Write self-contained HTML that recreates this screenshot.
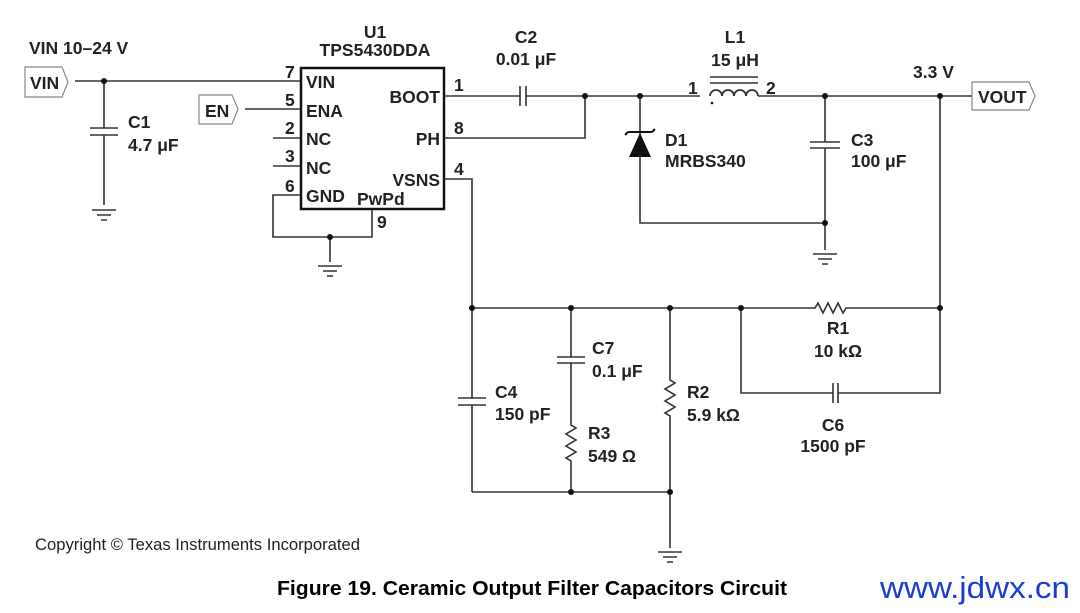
<!DOCTYPE html>
<html><head><meta charset="utf-8"><style>
html,body{margin:0;padding:0;background:#fff}
svg{display:block}
text{font-family:"Liberation Sans",Arial,sans-serif;font-weight:bold;font-size:17.5px;fill:#222}
</style></head><body>
<svg width="1080" height="613" viewBox="0 0 1080 613" xmlns="http://www.w3.org/2000/svg">
<defs>
<g id="gnd" stroke="#333" stroke-width="1.5"><line x1="-12" y1="0" x2="12" y2="0"/><line x1="-7" y1="5" x2="7" y2="5"/><line x1="-3" y1="10" x2="3" y2="10"/></g>
</defs>
<g stroke="#333" stroke-width="1.6" fill="none">
<path d="M25 67 H62 L68 82 L62 97 H25 Z" stroke="#888" stroke-width="1.2"/>
<path d="M75 81 H301"/>
<path d="M104 81 V128 M104 135 V205"/>
<path d="M90 128 H118 M90 135 H118"/>
<path d="M199 95 H232 L238 109 L232 124 H199 Z" stroke="#888" stroke-width="1.2"/>
<path d="M245 109 H301 M273 138 H301 M273 166 H301"/>
<path d="M301 195 H273 V237 H372 V209 M330 237 V262"/>
<rect x="301" y="68" width="143" height="141" stroke="#111" stroke-width="2.5"/>
<path d="M444 96 H520 M526 96 H700 M758 96 H972"/>
<path d="M520 86 V106 M526 86 V106"/>
<path d="M444 138 H585 V96"/>
<path d="M444 179 H472 V308"/>
<path d="M472 492 H670 V548"/>
<path d="M640 96 V223 H825"/>
<path d="M710 96 a6 6 0 0 1 12 0 a6 6 0 0 1 12 0 a6 6 0 0 1 12 0 a6 6 0 0 1 12 0" stroke-width="1.8"/>
<path d="M710 77 H758 M710 83 H758"/>
<path d="M825 96 V142 M825 148 V250 M810 142 H840 M810 148 H840"/>
<path d="M972 82 H1029 L1035 96 L1029 110 H972 Z" stroke="#888" stroke-width="1.2"/>
<path d="M940 96 V393 H838 M833 393 H741 V308"/>
<path d="M833 383 V403 M838 383 V403"/>
<path d="M472 308 H815 l3 -5 l5 10 l5 -10 l5 10 l5 -10 l5 10 l3 -5 H940"/>
<path d="M472 308 V398 M472 405 V492 M458 398 H486 M458 405 H486"/>
<path d="M571 308 V357 M571 363 V425 l5 3 l-10 6 l10 6 l-10 6 l10 6 l-10 6 l5 3 V492 M557 357 H585 M557 363 H585"/>
<path d="M670 308 V380 l5 3 l-10 6 l10 6 l-10 6 l10 6 l-10 6 l5 3 V492"/>
</g>
<path d="M640 133 L629 157 H651 Z" fill="#111"/>
<path d="M628 132 H652 M628 132 l-3 3 M652 132 l3 -3" stroke="#111" stroke-width="2" fill="none"/>
<circle cx="712" cy="103" r="1.3" fill="#111"/>
<use href="#gnd" x="104" y="210"/>
<use href="#gnd" x="330" y="266"/>
<use href="#gnd" x="825" y="254"/>
<use href="#gnd" x="670" y="552"/>
<g fill="#111">
<circle cx="104" cy="81" r="3"/><circle cx="330" cy="237" r="3"/>
<circle cx="585" cy="96" r="3"/><circle cx="640" cy="96" r="3"/><circle cx="825" cy="96" r="3"/><circle cx="940" cy="96" r="3"/><circle cx="825" cy="223" r="3"/>
<circle cx="472" cy="308" r="3"/><circle cx="571" cy="308" r="3"/><circle cx="670" cy="308" r="3"/><circle cx="741" cy="308" r="3"/><circle cx="940" cy="308" r="3"/>
<circle cx="571" cy="492" r="3"/><circle cx="670" cy="492" r="3"/>
</g>
<text x="29" y="54">VIN 10–24 V</text>
<text x="30" y="89">VIN</text>
<text x="205" y="117">EN</text>
<text x="375" y="38" text-anchor="middle">U1</text>
<text x="375" y="56" text-anchor="middle">TPS5430DDA</text>
<text x="128" y="128">C1</text><text x="128" y="151">4.7 μF</text>
<text x="285" y="78">7</text><text x="285" y="106">5</text><text x="285" y="134">2</text><text x="285" y="162">3</text><text x="285" y="192">6</text><text x="377" y="228">9</text>
<text x="306" y="88">VIN</text><text x="306" y="117">ENA</text><text x="306" y="145">NC</text><text x="306" y="174">NC</text><text x="306" y="202">GND</text><text x="357" y="205">PwPd</text>
<text x="440" y="103" text-anchor="end">BOOT</text><text x="440" y="145" text-anchor="end">PH</text><text x="440" y="186" text-anchor="end">VSNS</text>
<text x="454" y="91">1</text><text x="454" y="134">8</text><text x="454" y="175">4</text>
<text x="526" y="43" text-anchor="middle">C2</text><text x="526" y="65" text-anchor="middle">0.01 μF</text>
<text x="735" y="43" text-anchor="middle">L1</text><text x="735" y="66" text-anchor="middle">15 μH</text>
<text x="688" y="94">1</text><text x="766" y="94">2</text>
<text x="665" y="146">D1</text><text x="665" y="167">MRBS340</text>
<text x="851" y="146">C3</text><text x="851" y="167">100 μF</text>
<text x="913" y="78">3.3 V</text>
<text x="978" y="103">VOUT</text>
<text x="838" y="334" text-anchor="middle">R1</text><text x="838" y="357" text-anchor="middle">10 kΩ</text>
<text x="833" y="431" text-anchor="middle">C6</text><text x="833" y="452" text-anchor="middle">1500 pF</text>
<text x="495" y="398">C4</text><text x="495" y="420">150 pF</text>
<text x="592" y="354">C7</text><text x="592" y="377">0.1 μF</text>
<text x="588" y="439">R3</text><text x="588" y="462">549 Ω</text>
<text x="687" y="398">R2</text><text x="687" y="421">5.9 kΩ</text>
<text x="35" y="550" style="font-weight:normal;font-size:16.5px" textLength="325" lengthAdjust="spacingAndGlyphs">Copyright © Texas Instruments Incorporated</text>
<text x="277" y="595" style="font-size:20px;fill:#000" textLength="510" lengthAdjust="spacingAndGlyphs">Figure 19.  Ceramic Output Filter Capacitors Circuit</text>
<text x="880" y="598" style="font-weight:normal;font-size:31px;fill:#1a3fd0" textLength="190" lengthAdjust="spacingAndGlyphs">www.jdwx.cn</text>
</svg>
</body></html>
